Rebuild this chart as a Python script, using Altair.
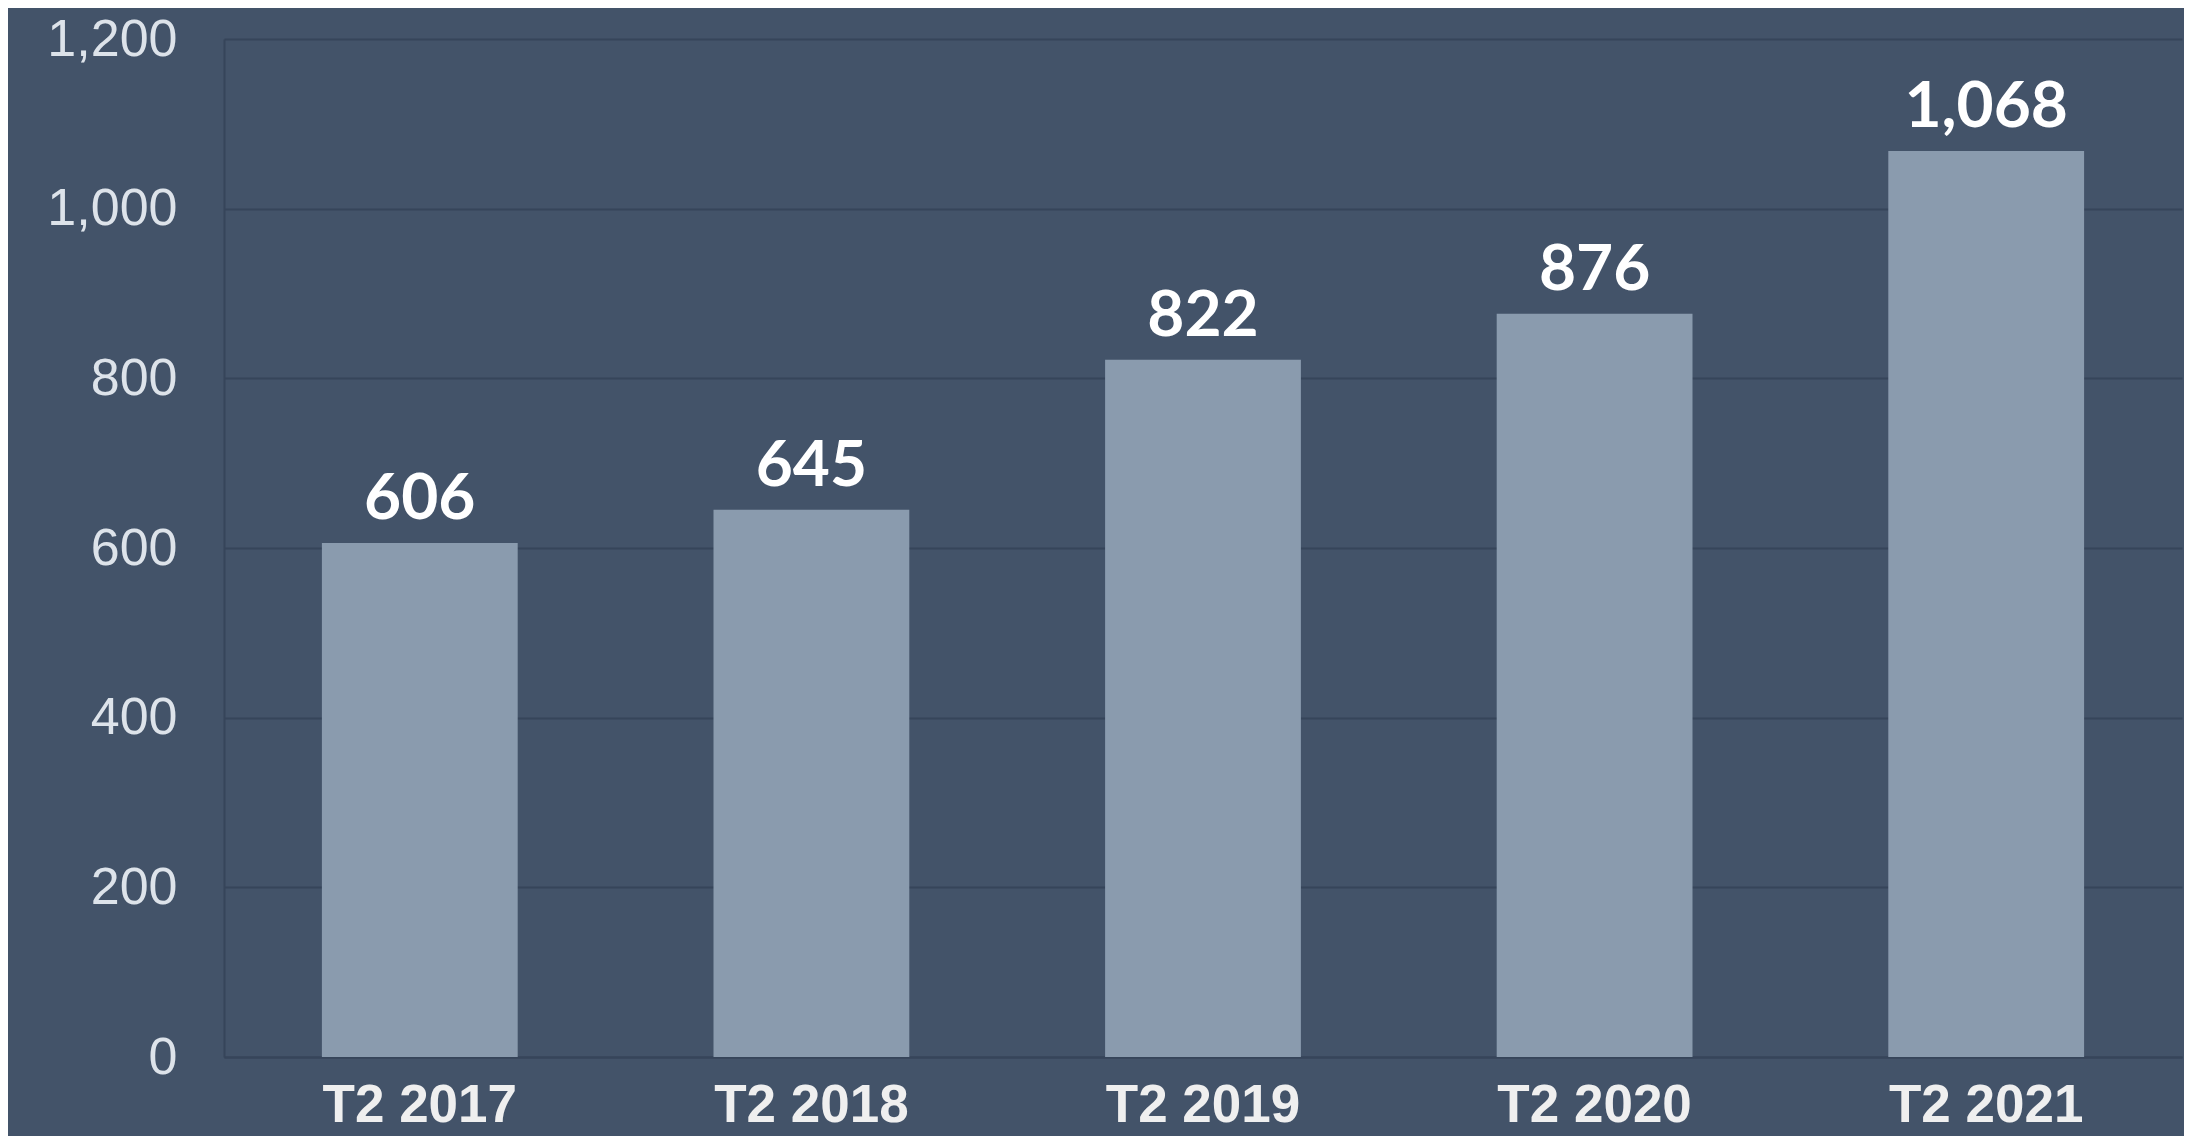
import altair as alt
import pandas as pd

categories = ["T2 2017", "T2 2018", "T2 2019", "T2 2020", "T2 2021"]
values = [606, 645, 822, 876, 1068]
y_ticks = [0, 200, 400, 600, 800, 1000, 1200]

df = pd.DataFrame({"period": categories, "value": values})

BG = "#435369"
BAR = "#8a9bae"
GRID = "#36455a"

x_enc = alt.X(
    "period:N",
    sort=categories,
    title=None,
    scale=alt.Scale(paddingInner=0.5, paddingOuter=0.25),
    axis=alt.Axis(
        labelAngle=0,
        labelFont="Liberation Sans",
        labelFontWeight="bold",
        labelFontSize=53,
        labelColor="#efefef",
        labelPadding=22,
        labelLimit=1000,
        ticks=False,
        tickSize=0,
        domain=True,
        domainColor=GRID,
        domainWidth=2,
        grid=False,
    ),
)

y_enc = alt.Y(
    "value:Q",
    title=None,
    scale=alt.Scale(domain=[0, 1200], nice=False),
    axis=alt.Axis(
        values=y_ticks,
        format=",d",
        labelFont="Liberation Sans",
        labelFontSize=52,
        labelColor="#dde3ea",
        labelPadding=47,
        labelLimit=1000,
        ticks=False,
        tickSize=0,
        domain=True,
        domainColor=GRID,
        domainWidth=2,
        grid=True,
        gridColor=GRID,
        gridWidth=2,
        gridOpacity=1,
    ),
)

bars = alt.Chart(df).mark_bar(color=BAR, opacity=1).encode(x=x_enc, y=y_enc)

labels = alt.Chart(df).mark_text(
    font="Lato",
    fontWeight="bold",
    fontSize=64,
    color="#ffffff",
    baseline="alphabetic",
    align="center",
    dy=-24,
).encode(
    x=alt.X("period:N", sort=categories),
    y=alt.Y("value:Q"),
    text=alt.Text("value:Q", format=","),
)

chart = (
    alt.layer(bars, labels)
    .properties(
        width=1958,
        height=1018,
        autosize=alt.AutoSizeParams(type="none"),
        padding={"left": 216, "top": 31, "right": 2, "bottom": 79},
        background=BG,
    )
    .configure_view(stroke=None)
)

chart.save("out.html", embed_options={"renderer": "svg", "actions": False})
